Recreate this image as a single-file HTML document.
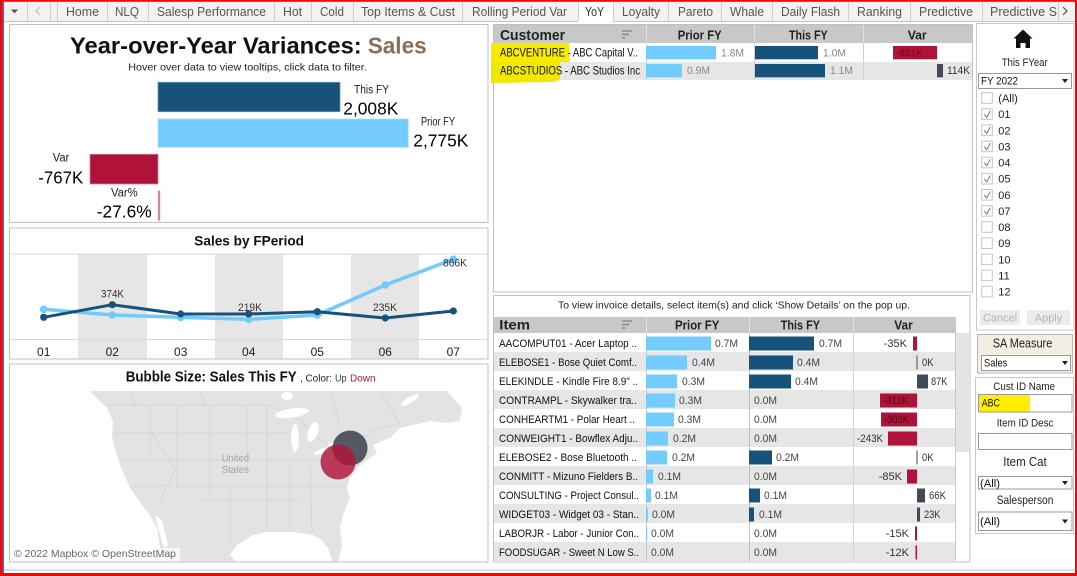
<!DOCTYPE html>
<html>
<head>
<meta charset="utf-8">
<style>
html,body{margin:0;padding:0;background:#fff;width:1077px;height:576px;overflow:hidden}
svg{display:block}
text{font-family:"Liberation Sans",sans-serif}
</style>
</head>
<body>
<svg width="1077" height="576" viewBox="0 0 1077 576" xmlns="http://www.w3.org/2000/svg">
<rect x="0" y="0" width="1077" height="576" fill="#fff"/>

<!-- ===== TAB BAR ===== -->
<rect x="3" y="2" width="1072" height="19" fill="#f2f2f2"/>
<rect x="578" y="2" width="35" height="20" fill="#fff"/>
<path d="M3 21.5H578M613 21.5H1075" stroke="#c6c6c6" stroke-width="1"/>
<g stroke="#cfcfcf" stroke-width="1">
<path d="M27.5 2V21M50.5 2V21M57.5 2V21M107.5 2V21M148.5 2V21M274.5 2V21M311.5 2V21M353.5 2V21M462.5 2V21M578.5 2V21M613.5 2V21M668.5 2V21M721.5 2V21M772.5 2V21M848.5 2V21M910.5 2V21M982.5 2V21M1058.5 2V21"/>
</g>
<path d="M11 9.5H18L14.5 13.5Z" fill="#555"/>
<path d="M40 7L36 11L40 15" fill="none" stroke="#bbb" stroke-width="1"/>
<path d="M1063 7L1067 11L1063 15" fill="none" stroke="#555" stroke-width="1.2"/>
<g font-size="13" fill="#555">
<text x="66" y="16" textLength="33" lengthAdjust="spacingAndGlyphs">Home</text>
<text x="115" y="16" textLength="24" lengthAdjust="spacingAndGlyphs">NLQ</text>
<text x="157" y="16" textLength="109" lengthAdjust="spacingAndGlyphs">Salesp Performance</text>
<text x="283" y="16" textLength="19" lengthAdjust="spacingAndGlyphs">Hot</text>
<text x="320" y="16" textLength="24" lengthAdjust="spacingAndGlyphs">Cold</text>
<text x="361" y="16" textLength="94" lengthAdjust="spacingAndGlyphs">Top Items &amp; Cust</text>
<text x="472" y="16" textLength="95" lengthAdjust="spacingAndGlyphs">Rolling Period Var</text>
<text x="585" y="16" textLength="19" lengthAdjust="spacingAndGlyphs" fill="#333">YoY</text>
<text x="622" y="16" textLength="38" lengthAdjust="spacingAndGlyphs">Loyalty</text>
<text x="678" y="16" textLength="35" lengthAdjust="spacingAndGlyphs">Pareto</text>
<text x="730" y="16" textLength="34" lengthAdjust="spacingAndGlyphs">Whale</text>
<text x="781" y="16" textLength="59" lengthAdjust="spacingAndGlyphs">Daily Flash</text>
<text x="857" y="16" textLength="45" lengthAdjust="spacingAndGlyphs">Ranking</text>
<text x="919" y="16" textLength="54" lengthAdjust="spacingAndGlyphs">Predictive</text>
<text x="990" y="16" textLength="67" lengthAdjust="spacingAndGlyphs">Predictive S</text>
</g>

<!-- ===== KPI PANEL ===== -->
<rect x="9.5" y="24.5" width="478.5" height="198" fill="#fff" stroke="#c0c0c0"/>
<text x="70" y="53.3" font-size="23" font-weight="bold" fill="#111" textLength="291.7" lengthAdjust="spacingAndGlyphs">Year-over-Year Variances:</text>
<text x="367.7" y="53.3" font-size="23" font-weight="bold" fill="#8a6d55" textLength="59" lengthAdjust="spacingAndGlyphs">Sales</text>
<text x="128.3" y="70.5" font-size="10.5" fill="#222" textLength="238.4" lengthAdjust="spacingAndGlyphs">Hover over data to view tooltips, click data to filter.</text>
<line x1="158" y1="79" x2="158" y2="222" stroke="#d8d8d8" stroke-dasharray="1,1"/>
<rect x="158" y="82.3" width="182" height="29.4" fill="#16527a" stroke="#6a97b6" stroke-width="0.8"/>
<rect x="158" y="119" width="250.3" height="28.3" fill="#73cbfe" stroke="#a6defe" stroke-width="0.8"/>
<rect x="90" y="154.3" width="68" height="29.7" fill="#b01339" stroke="#d27e93" stroke-width="0.8"/>
<rect x="158" y="190.7" width="2.2" height="30" fill="#d3879c"/>
<g fill="#222">
<text x="354" y="93.3" font-size="11.5" textLength="35" lengthAdjust="spacingAndGlyphs">This FY</text>
<text x="343.3" y="114.3" font-size="17.5" fill="#000" textLength="55" lengthAdjust="spacingAndGlyphs">2,008K</text>
<text x="421" y="125.3" font-size="11.5" textLength="34" lengthAdjust="spacingAndGlyphs">Prior FY</text>
<text x="413.3" y="146.7" font-size="17.5" fill="#000" textLength="55" lengthAdjust="spacingAndGlyphs">2,775K</text>
<text x="52.7" y="161.7" font-size="11.5" textLength="16.6" lengthAdjust="spacingAndGlyphs">Var</text>
<text x="38.3" y="183.3" font-size="17.5" fill="#000" textLength="45" lengthAdjust="spacingAndGlyphs">-767K</text>
<text x="111" y="196.7" font-size="11.5" textLength="26.7" lengthAdjust="spacingAndGlyphs">Var%</text>
<text x="96.7" y="217.7" font-size="17.5" fill="#000" textLength="55" lengthAdjust="spacingAndGlyphs">-27.6%</text>
</g>

<!-- ===== LINE PANEL ===== -->
<rect x="9.5" y="228" width="478.5" height="131" fill="#fff" stroke="#c0c0c0"/>
<text x="194.3" y="245.5" font-size="14" font-weight="bold" fill="#111" textLength="109.7" lengthAdjust="spacingAndGlyphs">Sales by FPeriod</text>
<g fill="#e6e6e6">
<rect x="78" y="254" width="69" height="104.5"/>
<rect x="215" y="254" width="68" height="104.5"/>
<rect x="351" y="254" width="68" height="104.5"/>
</g>
<line x1="10" y1="254" x2="488" y2="254" stroke="#d9d9d9"/>
<line x1="10" y1="339.5" x2="488" y2="339.5" stroke="#d9d9d9"/>
<g font-size="12" fill="#222" text-anchor="middle">
<text x="43.7" y="356">01</text>
<text x="112.3" y="356">02</text>
<text x="180.7" y="356">03</text>
<text x="248.7" y="356">04</text>
<text x="317.3" y="356">05</text>
<text x="385.3" y="356">06</text>
<text x="453.3" y="356">07</text>
</g>
<polyline points="43.7,309.3 112.3,315 180.7,317.3 248.7,319.3 317.3,315 385.3,285 453.3,259.3" fill="none" stroke="#72c9fd" stroke-width="3.5" stroke-linejoin="round"/>
<g fill="#72c9fd">
<circle cx="43.7" cy="309.3" r="3.8"/><circle cx="112.3" cy="315" r="3.8"/><circle cx="180.7" cy="317.3" r="3.8"/><circle cx="248.7" cy="319.3" r="3.8"/><circle cx="317.3" cy="315" r="3.8"/><circle cx="385.3" cy="285" r="3.8"/><circle cx="453.3" cy="259.3" r="3.8"/>
</g>
<polyline points="43.7,317.3 112.3,304.7 180.7,314 248.7,314 317.3,311.7 385.3,318 453.3,311" fill="none" stroke="#17527a" stroke-width="3" stroke-linejoin="round"/>
<g fill="#17527a">
<circle cx="43.7" cy="317.3" r="3.6"/><circle cx="112.3" cy="304.7" r="3.6"/><circle cx="180.7" cy="314" r="3.6"/><circle cx="248.7" cy="314" r="3.6"/><circle cx="317.3" cy="311.7" r="3.6"/><circle cx="385.3" cy="318" r="3.6"/><circle cx="453.3" cy="311" r="3.6"/>
</g>
<g font-size="11" fill="#333">
<text x="101" y="297.7" textLength="23" lengthAdjust="spacingAndGlyphs">374K</text>
<text x="238" y="311" textLength="24" lengthAdjust="spacingAndGlyphs">219K</text>
<text x="373" y="311" textLength="24" lengthAdjust="spacingAndGlyphs">235K</text>
<text x="443" y="266.7" textLength="24" lengthAdjust="spacingAndGlyphs">866K</text>
</g>

<!-- ===== MAP PANEL ===== -->
<rect x="9.5" y="364" width="478.5" height="198" fill="#fff" stroke="#c0c0c0"/>
<text x="125.7" y="381.7" font-size="14.5" font-weight="bold" fill="#111" textLength="171" lengthAdjust="spacingAndGlyphs">Bubble Size: Sales This FY</text>
<text x="300" y="381.7" font-size="10.5" fill="#222" textLength="32" lengthAdjust="spacingAndGlyphs">, Color:</text>
<text x="335" y="381.7" font-size="10.5" fill="#1f3a5a" textLength="11.5" lengthAdjust="spacingAndGlyphs">Up</text>
<text x="350" y="381.7" font-size="10.5" fill="#b01339" textLength="25.5" lengthAdjust="spacingAndGlyphs">Down</text>
<clipPath id="mc"><rect x="10" y="391" width="477.5" height="170.5"/></clipPath>
<g clip-path="url(#mc)">
<path d="M90,391 L447,391 L462,408 L460,421 L447,423 L430,421 L413,425 L400,428 L390,438 L373,445 L377,453 L367,460 L357,468 L350,478 L347,488 L350,498 L343,515 L340,528 L342,545 L338,563 L333,563 L328,548 L322,540 L313,535 L293,532 L267,532 L253,535 L237,545 L230,555 L237,563 L167,563 L160,548 L157,528 L150,515 L142,505 L130,488 L120,465 L112,438 L113,421 L107,408 Z" fill="#e3e3e3"/>
<path d="M155,515 L162,520 L168,545 L164,548 L158,528 Z" fill="#fff"/>
<g fill="none" stroke="#d3d3d3" stroke-width="0.8">
<path d="M107,405 L267,405 L285,412 L300,420 L320,440 L333,447 L345,440 L365,436 L378,428 L395,425"/>
<path d="M113,433 L290,433"/>
<path d="M120,460 L330,460"/>
<path d="M130,486 L345,486"/>
<path d="M200,500 L300,500"/>
<path d="M150,405 L150,460"/>
<path d="M177,405 L177,488"/>
<path d="M210,405 L210,500"/>
<path d="M247,405 L247,470"/>
<path d="M267,405 L267,530"/>
<path d="M290,460 L290,530"/>
<path d="M310,460 L312,533"/>
<path d="M230,486 L230,545"/>
<path d="M150,430 L175,470 L160,500"/>
<path d="M130,391 L135,405 M200,391 L205,405 M330,391 L340,425 M380,391 L400,425"/>
</g>
<g fill="#fff">
<ellipse cx="292" cy="413" rx="17" ry="4.5" transform="rotate(-8 292 413)"/>
<ellipse cx="295" cy="438" rx="3.8" ry="14"/>
<ellipse cx="313" cy="432" rx="5" ry="10" transform="rotate(20 313 432)"/>
<ellipse cx="322" cy="451" rx="9" ry="2.3" transform="rotate(-20 322 451)"/>
<ellipse cx="335" cy="444" rx="7" ry="2.3" transform="rotate(-10 335 444)"/>
<ellipse cx="287" cy="396" rx="6" ry="4"/>
<ellipse cx="410" cy="400" rx="10" ry="3" transform="rotate(-30 410 400)"/>
</g>
<text x="221.7" y="461.3" font-size="10.5" fill="#a2a2a2" textLength="27.3" lengthAdjust="spacingAndGlyphs">United</text>
<text x="221.7" y="473" font-size="10.5" fill="#a2a2a2" textLength="27.3" lengthAdjust="spacingAndGlyphs">States</text>
<circle cx="350" cy="448" r="17.5" fill="#3a404c" fill-opacity="0.85"/>
<circle cx="338" cy="462" r="17.5" fill="#b01339" fill-opacity="0.82"/>
<rect x="10" y="548" width="170" height="14" fill="#fff" fill-opacity="0.75"/>
<text x="14" y="557" font-size="10.5" fill="#666" textLength="162" lengthAdjust="spacingAndGlyphs">© 2022 Mapbox © OpenStreetMap</text>
</g>

<!-- ===== CUSTOMER PANEL ===== -->
<rect x="493.5" y="24.5" width="479" height="267.5" fill="#fff" stroke="#c0c0c0"/>
<rect x="494" y="25" width="478" height="18" fill="#c8c8c8"/>
<path d="M646.5 25V43M754.5 25V43M863.5 25V43" stroke="#e2e2e2"/>
<text x="500" y="40" font-size="15" font-weight="bold" fill="#222" textLength="65" lengthAdjust="spacingAndGlyphs">Customer</text>
<path d="M622 31H632M622 34.5H629M622 38H625" stroke="#8a8a8a" stroke-width="1.6"/>
<g font-size="13" font-weight="bold" fill="#222">
<text x="677.7" y="39.5" textLength="44" lengthAdjust="spacingAndGlyphs">Prior FY</text>
<text x="789" y="39.5" textLength="38.7" lengthAdjust="spacingAndGlyphs">This FY</text>
<text x="907.7" y="39.5" textLength="19" lengthAdjust="spacingAndGlyphs">Var</text>
</g>
<rect x="494" y="62" width="478" height="18" fill="#e6e6e6"/>
<path d="M646.5 43V80M754.5 43V80M863.5 43V80" stroke="#d0d0d0"/>
<rect x="491" y="43" width="78" height="19" fill="#f5ea00"/>
<path d="M491,62 L560,62 L560,80 L552,82 L491,83 Z" fill="#f0e800"/>
<g font-size="12" fill="#111">
<text x="500" y="56.7" textLength="138" lengthAdjust="spacingAndGlyphs">ABCVENTURE  -  ABC Capital V..</text>
<text x="500" y="74.3" textLength="140" lengthAdjust="spacingAndGlyphs">ABCSTUDIOS  -  ABC Studios Inc</text>
</g>
<rect x="646" y="46" width="70" height="13.3" fill="#73cbfe"/>
<rect x="646" y="64" width="36" height="13.3" fill="#73cbfe"/>
<rect x="755" y="46" width="63" height="13.3" fill="#17527a"/>
<rect x="755" y="64" width="70" height="13.3" fill="#17527a"/>
<rect x="893" y="46" width="44" height="13.3" fill="#b01339"/>
<rect x="937" y="64" width="6" height="13.3" fill="#424a58"/>
<g font-size="11" fill="#888">
<text x="721" y="56.5" textLength="23" lengthAdjust="spacingAndGlyphs">1.8M</text>
<text x="687" y="74" textLength="23" lengthAdjust="spacingAndGlyphs">0.9M</text>
<text x="823" y="56.5" textLength="23" lengthAdjust="spacingAndGlyphs">1.0M</text>
<text x="830" y="74" textLength="23" lengthAdjust="spacingAndGlyphs">1.1M</text>
<text x="896" y="56.5" fill="#6b0a22" textLength="27" lengthAdjust="spacingAndGlyphs">-881K</text>
<text x="947" y="74" fill="#333" textLength="23" lengthAdjust="spacingAndGlyphs">114K</text>
</g>

<!-- ===== ITEM PANEL ===== -->
<rect x="493.5" y="295.5" width="476.5" height="266.5" fill="#fff" stroke="#c0c0c0"/>
<text x="558" y="308.5" font-size="10.5" fill="#222" textLength="352" lengthAdjust="spacingAndGlyphs">To view invoice details, select item(s) and click ‘Show Details’ on the pop up.</text>
<rect x="494" y="317" width="462" height="16" fill="#c8c8c8"/>
<path d="M646.5 317V333M749.5 317V333M853.5 317V333" stroke="#e2e2e2"/>
<text x="499.3" y="329.5" font-size="14" font-weight="bold" fill="#222" textLength="30.7" lengthAdjust="spacingAndGlyphs">Item</text>
<path d="M622 321H632M622 324.5H629M622 328H625" stroke="#8a8a8a" stroke-width="1.6"/>
<g font-size="13" font-weight="bold" fill="#222">
<text x="675" y="329.5" textLength="44.3" lengthAdjust="spacingAndGlyphs">Prior FY</text>
<text x="780.7" y="329.5" textLength="39.3" lengthAdjust="spacingAndGlyphs">This FY</text>
<text x="894.3" y="329.5" textLength="18.4" lengthAdjust="spacingAndGlyphs">Var</text>
</g>
<rect x="956" y="333" width="13" height="119" fill="#e4e4e4"/>
<g fill="#e6e6e6">
<rect x="494" y="352" width="462" height="19"/>
<rect x="494" y="390" width="462" height="19"/>
<rect x="494" y="428" width="462" height="19"/>
<rect x="494" y="466" width="462" height="19"/>
<rect x="494" y="504" width="462" height="19"/>
<rect x="494" y="542" width="462" height="19"/>
</g>
<path d="M646.5 333V561" stroke="#c8c8c8"/>
<path d="M749.5 333V561" stroke="#b8c0c8"/>
<path d="M853.5 333V561" stroke="#d4d4d4"/>
<path d="M955.5 333V561" stroke="#c8c8c8"/>
<g font-size="11" fill="#111">
<text x="499" y="347" textLength="138" lengthAdjust="spacingAndGlyphs">AACOMPUT01  -  Acer Laptop ..</text>
<text x="499" y="366" textLength="138" lengthAdjust="spacingAndGlyphs">ELEBOSE1  -  Bose Quiet Comf..</text>
<text x="499" y="385" textLength="139" lengthAdjust="spacingAndGlyphs">ELEKINDLE  -  Kindle Fire 8.9" ..</text>
<text x="499" y="404" textLength="138" lengthAdjust="spacingAndGlyphs">CONTRAMPL  -  Skywalker tra..</text>
<text x="499" y="423" textLength="136" lengthAdjust="spacingAndGlyphs">CONHEARTM1  -  Polar Heart ..</text>
<text x="499" y="442" textLength="139" lengthAdjust="spacingAndGlyphs">CONWEIGHT1  -  Bowflex Adju..</text>
<text x="499" y="461" textLength="138" lengthAdjust="spacingAndGlyphs">ELEBOSE2  -  Bose Bluetooth ..</text>
<text x="499" y="480" textLength="139" lengthAdjust="spacingAndGlyphs">CONMITT  -  Mizuno Fielders B..</text>
<text x="499" y="499" textLength="140" lengthAdjust="spacingAndGlyphs">CONSULTING  -  Project Consul..</text>
<text x="499" y="518" textLength="140" lengthAdjust="spacingAndGlyphs">WIDGET03  -  Widget 03 - Stan..</text>
<text x="499" y="537" textLength="140" lengthAdjust="spacingAndGlyphs">LABORJR  -  Labor - Junior Con..</text>
<text x="499" y="556" textLength="140" lengthAdjust="spacingAndGlyphs">FOODSUGAR  -  Sweet N Low S..</text>
</g>
<!-- prior bars -->
<g fill="#73cbfe">
<rect x="646" y="336.5" width="65" height="14"/>
<rect x="646" y="355.5" width="41" height="14"/>
<rect x="646" y="374.5" width="31" height="14"/>
<rect x="646" y="393.5" width="29" height="14"/>
<rect x="646" y="412.5" width="28" height="14"/>
<rect x="646" y="431.5" width="22" height="14"/>
<rect x="646" y="450.5" width="21" height="14"/>
<rect x="646" y="469.5" width="7" height="14"/>
<rect x="646" y="488.5" width="5" height="14"/>
<rect x="646" y="507.5" width="1.8" height="14"/>
<rect x="646" y="526.5" width="1.2" height="14"/>
</g>
<!-- this bars -->
<g fill="#17527a">
<rect x="749" y="336.5" width="65" height="14"/>
<rect x="749" y="355.5" width="44" height="14"/>
<rect x="749" y="374.5" width="42" height="14"/>
<rect x="749" y="450.5" width="23" height="14"/>
<rect x="749" y="488.5" width="11" height="14"/>
<rect x="749" y="507.5" width="5" height="14"/>
</g>
<!-- var bars -->
<g fill="#b01339">
<rect x="913" y="336.5" width="4" height="14"/>
<rect x="880" y="393.5" width="37" height="14"/>
<rect x="881" y="412.5" width="36" height="14"/>
<rect x="888" y="431.5" width="29" height="14"/>
<rect x="907" y="469.5" width="10" height="14"/>
<rect x="915" y="526.5" width="2" height="14"/>
<rect x="915.5" y="545.5" width="1.5" height="14"/>
</g>
<g fill="#424a58">
<rect x="917" y="374.5" width="11" height="14"/>
<rect x="917" y="488.5" width="8" height="14"/>
<rect x="917" y="507.5" width="3" height="14"/>
</g>
<g fill="#777">
<rect x="916.3" y="355.5" width="1.4" height="14"/>
<rect x="916.3" y="450.5" width="1.4" height="14"/>
</g>
<g font-size="11" fill="#444">
<text x="715" y="347" textLength="23" lengthAdjust="spacingAndGlyphs">0.7M</text>
<text x="692" y="366" textLength="23" lengthAdjust="spacingAndGlyphs">0.4M</text>
<text x="682" y="385" textLength="23" lengthAdjust="spacingAndGlyphs">0.3M</text>
<text x="679" y="404" textLength="23" lengthAdjust="spacingAndGlyphs">0.3M</text>
<text x="678" y="423" textLength="23" lengthAdjust="spacingAndGlyphs">0.3M</text>
<text x="673" y="442" textLength="23" lengthAdjust="spacingAndGlyphs">0.2M</text>
<text x="672" y="461" textLength="23" lengthAdjust="spacingAndGlyphs">0.2M</text>
<text x="658" y="480" textLength="23" lengthAdjust="spacingAndGlyphs">0.1M</text>
<text x="655" y="499" textLength="23" lengthAdjust="spacingAndGlyphs">0.1M</text>
<text x="652" y="518" textLength="23" lengthAdjust="spacingAndGlyphs">0.0M</text>
<text x="651" y="537" textLength="23" lengthAdjust="spacingAndGlyphs">0.0M</text>
<text x="651" y="556" textLength="23" lengthAdjust="spacingAndGlyphs">0.0M</text>

<text x="819" y="347" textLength="23" lengthAdjust="spacingAndGlyphs">0.7M</text>
<text x="797" y="366" textLength="23" lengthAdjust="spacingAndGlyphs">0.4M</text>
<text x="795" y="385" textLength="23" lengthAdjust="spacingAndGlyphs">0.4M</text>
<text x="754" y="404" textLength="23" lengthAdjust="spacingAndGlyphs">0.0M</text>
<text x="754" y="423" textLength="23" lengthAdjust="spacingAndGlyphs">0.0M</text>
<text x="754" y="442" textLength="23" lengthAdjust="spacingAndGlyphs">0.0M</text>
<text x="776" y="461" textLength="23" lengthAdjust="spacingAndGlyphs">0.2M</text>
<text x="754" y="480" textLength="23" lengthAdjust="spacingAndGlyphs">0.0M</text>
<text x="764" y="499" textLength="23" lengthAdjust="spacingAndGlyphs">0.1M</text>
<text x="759" y="518" textLength="23" lengthAdjust="spacingAndGlyphs">0.1M</text>
<text x="754" y="537" textLength="23" lengthAdjust="spacingAndGlyphs">0.0M</text>
<text x="754" y="556" textLength="23" lengthAdjust="spacingAndGlyphs">0.0M</text>
</g>
<g font-size="11" fill="#333">
<text x="907" y="347" text-anchor="end">-35K</text>
<text x="922" y="366" textLength="11.5" lengthAdjust="spacingAndGlyphs">0K</text>
<text x="931" y="385" textLength="16.5" lengthAdjust="spacingAndGlyphs">87K</text>
<text x="883" y="404" fill="#4a0818" textLength="25" lengthAdjust="spacingAndGlyphs">-311K</text>
<text x="884" y="423" fill="#4a0818" textLength="25" lengthAdjust="spacingAndGlyphs">-303K</text>
<text x="857" y="442" textLength="26" lengthAdjust="spacingAndGlyphs">-243K</text>
<text x="922" y="461" textLength="11.5" lengthAdjust="spacingAndGlyphs">0K</text>
<text x="902" y="480" text-anchor="end">-85K</text>
<text x="929" y="499" textLength="17" lengthAdjust="spacingAndGlyphs">66K</text>
<text x="924" y="518" textLength="16.5" lengthAdjust="spacingAndGlyphs">23K</text>
<text x="909" y="537" text-anchor="end">-15K</text>
<text x="909" y="556" text-anchor="end">-12K</text>
</g>

<!-- ===== RIGHT FILTER PANEL ===== -->
<rect x="976.5" y="23.5" width="97.5" height="306.5" fill="#fff" stroke="#c8c8c8"/>
<path d="M1023 29.5L1032.5 38.5L1030 38.5L1030 48L1025.5 48L1025.5 43L1020.5 43L1020.5 48L1016 48L1016 38.5L1013.5 38.5Z" fill="#111"/>
<text x="1001.7" y="66" font-size="11" fill="#222" textLength="46" lengthAdjust="spacingAndGlyphs">This FYear</text>
<rect x="978.5" y="73.5" width="93" height="15" fill="#fff" stroke="#999"/>
<text x="981" y="84.5" font-size="11" fill="#111" textLength="37" lengthAdjust="spacingAndGlyphs">FY 2022</text>
<path d="M1062 79H1068L1065 83Z" fill="#222"/>
<g fill="#fff" stroke="#c4c4c4">
<rect x="981.7" y="92.7" width="10.6" height="10.6"/>
<rect x="981.7" y="108.8" width="10.6" height="10.6"/>
<rect x="981.7" y="125" width="10.6" height="10.6"/>
<rect x="981.7" y="141.1" width="10.6" height="10.6"/>
<rect x="981.7" y="157.2" width="10.6" height="10.6"/>
<rect x="981.7" y="173.4" width="10.6" height="10.6"/>
<rect x="981.7" y="189.5" width="10.6" height="10.6"/>
<rect x="981.7" y="205.6" width="10.6" height="10.6"/>
<rect x="981.7" y="221.7" width="10.6" height="10.6"/>
<rect x="981.7" y="237.9" width="10.6" height="10.6"/>
<rect x="981.7" y="254" width="10.6" height="10.6"/>
<rect x="981.7" y="270.1" width="10.6" height="10.6"/>
<rect x="981.7" y="286.3" width="10.6" height="10.6"/>
</g>
<g fill="none" stroke="#777" stroke-width="1">
<path d="M984.3 114.3L986.8 117.3L990.3 110.8"/>
<path d="M984.3 130.5L986.8 133.5L990.3 127"/>
<path d="M984.3 146.6L986.8 149.6L990.3 143.1"/>
<path d="M984.3 162.7L986.8 165.7L990.3 159.2"/>
<path d="M984.3 178.9L986.8 181.9L990.3 175.4"/>
<path d="M984.3 195L986.8 198L990.3 191.5"/>
<path d="M984.3 211.1L986.8 214.1L990.3 207.6"/>
</g>
<g font-size="11" fill="#222">
<text x="998.3" y="102">(All)</text>
<text x="998.3" y="118.1">01</text>
<text x="998.3" y="134.3">02</text>
<text x="998.3" y="150.4">03</text>
<text x="998.3" y="166.5">04</text>
<text x="998.3" y="182.7">05</text>
<text x="998.3" y="198.8">06</text>
<text x="998.3" y="214.9">07</text>
<text x="998.3" y="231">08</text>
<text x="998.3" y="247.2">09</text>
<text x="998.3" y="263.3">10</text>
<text x="998.3" y="279.4">11</text>
<text x="998.3" y="295.6">12</text>
</g>
<rect x="980" y="310" width="40" height="15" fill="#ebebeb"/>
<rect x="1027" y="310" width="43" height="15" fill="#ebebeb"/>
<text x="1000" y="321.3" font-size="11" fill="#b4b4b4" text-anchor="middle">Cancel</text>
<text x="1048.5" y="321.3" font-size="11" fill="#b4b4b4" text-anchor="middle">Apply</text>

<rect x="977.5" y="334.5" width="95" height="38.5" fill="#f4efe4" stroke="#bcb6aa"/>
<text x="992.7" y="347.3" font-size="13" fill="#222" textLength="59.6" lengthAdjust="spacingAndGlyphs">SA Measure</text>
<rect x="981.5" y="355.5" width="89" height="15" fill="#fff" stroke="#999"/>
<text x="984" y="366.5" font-size="11" fill="#111" textLength="23.3" lengthAdjust="spacingAndGlyphs">Sales</text>
<path d="M1062 361H1068L1065 365Z" fill="#222"/>

<rect x="975.5" y="377.5" width="98" height="156" fill="#fff" stroke="#c8c8c8"/>
<text x="993.3" y="390" font-size="11" fill="#222" textLength="61.7" lengthAdjust="spacingAndGlyphs">Cust ID Name</text>
<rect x="978.5" y="394.5" width="93.5" height="17.5" fill="#fff" stroke="#999"/>
<rect x="979" y="395" width="51" height="16.5" fill="#ffee00"/>
<text x="981.7" y="406.7" font-size="11" fill="#111" textLength="18.3" lengthAdjust="spacingAndGlyphs">ABC</text>
<text x="996.7" y="426.7" font-size="11" fill="#222" textLength="56.7" lengthAdjust="spacingAndGlyphs">Item ID Desc</text>
<rect x="978.5" y="433.5" width="93.5" height="16" fill="#fff" stroke="#999"/>
<text x="1003.3" y="466" font-size="13" fill="#222" textLength="43.4" lengthAdjust="spacingAndGlyphs">Item Cat</text>
<rect x="978.5" y="476.5" width="93.5" height="12.5" fill="#fff" stroke="#999"/>
<text x="980" y="487" font-size="11" fill="#111" textLength="20" lengthAdjust="spacingAndGlyphs">(All)</text>
<path d="M1062 481H1068L1065 485Z" fill="#222"/>
<text x="996.7" y="504" font-size="11.5" fill="#222" textLength="56.7" lengthAdjust="spacingAndGlyphs">Salesperson</text>
<rect x="978.5" y="512" width="93.5" height="18.5" fill="#fff" stroke="#999"/>
<text x="980" y="525" font-size="11" fill="#111" textLength="20" lengthAdjust="spacingAndGlyphs">(All)</text>
<path d="M1062 519.5H1068L1065 523.5Z" fill="#222"/>

<!-- bottom line & borders -->
<line x1="3" y1="570" x2="1075" y2="570" stroke="#bdbdbd"/>
<rect x="0" y="0" width="1077" height="1.8" fill="#ff0000"/>
<rect x="0" y="573" width="1077" height="3" fill="#ff0000"/>
<rect x="0" y="0" width="2.5" height="576" fill="#ff0000"/>
<rect x="2.5" y="1.8" width="1.5" height="571.2" fill="#2a74e6"/>
<rect x="1075" y="0" width="2" height="576" fill="#ff0000"/>
</svg>
</body>
</html>
